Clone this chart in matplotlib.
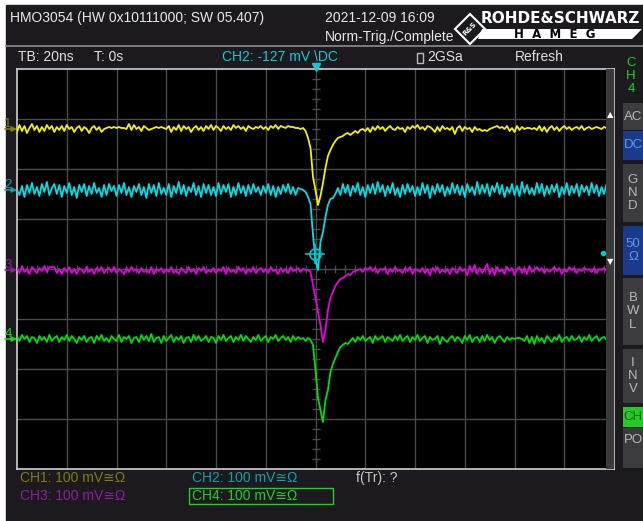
import numpy as np
import matplotlib.pyplot as plt
from matplotlib.patches import Rectangle, Polygon

# screen: 12 div x 20 ns, 8 div x 100 mV, samples every 1 ns
T_START = -120
T_STEP = 1

# CH1 (yellow), mV relative to its own baseline
ch1_pre = [-6, 8, -4, 6, -8, 2, 10, -2, 6, -6, 4, -4, 8, 0, 6, -6, 4, -2, 6, -4,
           8, 0, 4, -6, 2, 6, -4, 4, 0, -8, 2, 6, -2, 4, -6, 0, 2, 4, 2, 4,
           2, 4, 2, 2, 0, 10, -2, 8, 0, 4, -4, 6, 2, -2, 0, 2, 4, 2, 4, 2,
           0, 6, -6, 4, -2, 8, -4, 6, 0, 4, -6, 2, 6, -2, 4, -4, 6, 0, 8, -2,
           6, 2, -4, 6, 0, 4, -2, 8, 2, 6, 0, 4, -4, 6, 2, 0, 4, 2, 6, 0,
           4, -2, 6, 2, 8, 0, 6, 4, 2, 6, 4, 4, 2, 2, 0, 2]
ch1_pulse = [-4, -18, -38, -96, -122, -152, -134, -108, -78, -54,
             -42, -32, -24, -18, -16, -14, -10, -8, -12, -8, -4, -8, -2]
ch1_post = [0, -4, 2, -6, 4, -2, 6, 0, 4, -4, 2, 6, 0, -2, 4, 0, 2, -6, 4, 0,
            6, 2, 8, 0, 4, -2, 6, 4, 0, -6, 4, -4, 6, 0, 2, -2, 4, -10, 2, 6,
            -4, 4, 0, 2, -6, 4, -2, 0, -4, -2, -4, 0, 2, 4, 6, 2, 4, 0, 6, -4,
            2, -6, 6, -2, 4, 0, 2, 2, 0, 2, -2, 6, -4, 4, -6, 2, 6, -2, 4, -4,
            2, 6, 0, 4, -2, 2, 4, 0, 6, -2, 2, 4, 0, 2, 4, 2, 0, 4, 2, 0,
            2, 0]

# CH2 (cyan)
ch2_pre = [0, -10, 8, -14, 10, -6, 14, -8, 6, -12, 12, -4, 16, -10, 4, 12, -8, 10, -14, 8,
           -6, 14, -10, 6, -16, 10, -4, 12, -12, 8, -8, 14, -6, 4, -14, 10, -10, 12, -2, 8,
           -12, 10, -6, 14, -10, 6, -14, 8, -4, 12, -10, 6, -16, 12, -6, 10, -12, 14, -8, 4,
           -10, 12, -14, 8, -6, 16, -8, 10, -12, 6, -4, 14, -10, 8, -14, 12, -6, 10, -10, 6,
           -12, 14, -8, 10, -4, 12, -14, 6, -10, 14, -6, 8, -12, 10, -8, 12, -4, 6, -10, 8,
           -6, 12, -10, 8, -14, 6, -8, 10, -4, 12, -8, 6, -10, 4, 2, 0]
ch2_pulse = [-4, -14, -28, -90, -140, -160, -104, -84, -54, -30, -18, -16, -8]
ch2_post = [4, -10, 12, -6, 10, -12, 8, -4, 14, -10, 6, -14, 10, -6, 12, -8, 16, -4, 10, -12,
            8, -6, 14, -10, 4, -14, 10, -8, 12, -4, 8, -12, 6, -10, 14, -6, 10, -16, 8, -8,
            12, -4, 10, -12, 6, -8, 14, -6, 10, -10, 8, -14, 12, -4, 6, -10, 16, -8, 10, -6,
            12, -12, 8, -4, 14, -8, 10, -14, 6, -6, 12, -10, 8, -12, 16, -6, 10, -8, 4, -10,
            14, -6, 12, -12, 8, -8, 10, -4, 12, -14, 6, -8, 14, -10, 8, -6, 12, -12, 10, -4,
            8, -10, 14, -6, 10, -12, 6, -8, 12, -4, 8, 0]

# CH3 (magenta)
ch3_pre = [4, -6, 8, -4, 2, -8, 6, 0, -6, 4, -2, 8, -4, 6, 6, 6, -6, 2, -8, 4,
           -4, 6, -6, 2, -8, 4, 0, -6, 6, -4, 2, -8, 4, -2, 6, -6, 0, 4, -4, 6,
           -6, 2, -2, -8, 4, -4, 6, -2, 2, -6, 4, -4, 0, -6, 6, -8, 2, -2, 4, -6,
           2, -4, 6, -6, 0, -8, 4, -2, -6, 6, -4, 2, -8, 4, -2, 6, -6, 0, -4, 4,
           -6, 2, -2, 6, -8, 4, -4, 0, -6, 6, -2, 4, -8, 2, -4, 6, -6, 0, 4, -4,
           2, -6, 6, -2, 0, -8, 4, -4, 2, -6, 6, -2, 0, 4, -4, 2, 0]
ch3_pulse = [0, -4, -30, -56, -84, -110, -144, -120, -80, -56,
             -44, -32, -24, -18, -16, -12, -8, -10, -4, -2]
ch3_post = [0, 2, -4, 4, 0, 6, -2, 4, -6, 2, 0, 4, -8, 2, -4, 6, -2, 0, -6, 4,
            -2, 6, -8, 2, 0, -4, 4, -6, 2, -10, 4, -2, 6, -6, 0, -4, 2, -8, 4, 0,
            -6, 6, -2, 2, -10, 8, -4, 10, -8, 4, -6, 2, 12, -8, 4, -10, 6, -4, 2, -8,
            6, -2, 4, -10, 2, 6, -6, 4, -8, 8, -4, 0, 6, -2, 4, -6, 2, -4, 0, 6,
            -2, 4, -8, 2, -4, 6, 0, 4, -6, 2, -2, 4, 0, 2, -4, 4, -6, 2, 0, 4,
            -2, 2, 0, 2]

# CH4 (green)
ch4_pre = [6, -4, 8, 0, 6, -6, 4, 2, -8, 6, -2, 4, -6, 8, -4, 2, 6, -6, 4, -2,
           8, -4, 6, 0, -8, 4, -2, 6, -6, 2, 4, -8, 6, -2, 8, -4, 2, -6, 6, 0,
           -4, 8, -6, 4, 0, 6, -8, 2, 4, -6, 8, -2, 6, -4, 10, -6, 2, 4, -8, 6,
           -4, 2, 8, -6, 4, -2, 6, -8, 2, 4, -6, 8, -2, 6, -4, 0, 6, -6, 4, 2,
           -8, 6, -2, 8, -4, 2, 6, -6, 4, -2, 8, -4, 6, 0, -6, 4, -2, 8, -4, 2,
           6, -6, 4, 0, 8, -4, 2, 6, -2, 4, -6, 6, -2, 4, 0, 2, -4, 2]
ch4_pulse = [-2, -12, -62, -118, -142, -166, -122, -102, -66, -50,
             -38, -26, -16, -12, -8, -10, -4]
ch4_post = [2, -6, 4, -2, 6, -4, 0, 4, -8, 6, -2, 2, 6, -6, 4, 0, -4, 6, -2, 8,
            -4, 2, 6, -6, 4, -2, 8, -4, 2, 6, -8, 4, -2, 0, 6, -10, 4, -2, -6, 2,
            6, -4, 4, 0, -8, 6, -2, 8, -6, 2, 4, -6, 6, -4, 8, -2, 4, -8, 2, 6,
            0, -6, 4, -2, 2, 0, 2, 2, 0, -4, 6, -8, 4, -10, 6, -4, 2, -8, 6, 0,
            -6, 4, -2, 8, -6, 2, 4, -4, 6, -2, 0, 6, -6, 4, -2, 8, -4, 2, 6, -4,
            2, 4, -2, 6, 0, 2]

channel_names = ['CH1', 'CH2', 'CH3', 'CH4']
channel_offsets = [280, 158, -2, -140]   # mV on screen
trace_colors = ['#f2f200', '#00dde6', '#e600e6', '#00e000']
label_colors = ['#807c14', '#1a9ca3', '#8e1f9c', '#22d022']
traces = [ch1_pre + ch1_pulse + ch1_post,
          ch2_pre + ch2_pulse + ch2_post,
          ch3_pre + ch3_pulse + ch3_post,
          ch4_pre + ch4_pulse + ch4_post]

BG = '#1c1a1e'
GRID = '#4a4a4a'
FONT = ['Liberation Sans', 'DejaVu Sans']
FS = 10
W, H = 643, 521


def fx(x):
    return x / W


def fy(y):
    return 1 - y / H


fig = plt.figure(figsize=(6.43, 5.21), dpi=100, facecolor='white')
fig.patches.append(Rectangle((fx(6), 0), 1, fy(5), transform=fig.transFigure,
                             color=BG, zorder=-5))
fig.add_artist(plt.Line2D([fx(6), 1], [fy(45.5), fy(45.5)], color='#8c8c8c', lw=1.2))

# header
fig.text(fx(10), fy(18), 'HMO3054 (HW 0x10111000; SW 05.407)', color='#e8e8e8',
         fontsize=FS, family=FONT, va='center')
fig.text(fx(325), fy(18), '2021-12-09 16:09', color='#e8e8e8', fontsize=FS,
         family=FONT, va='center')
fig.text(fx(325), fy(37), 'Norm-Trig./Complete', color='#e8e8e8', fontsize=FS,
         family=FONT, va='center')

# R&S / HAMEG logo
fig.patches.append(Polygon([(fx(470), fy(14)), (fx(485), fy(29)), (fx(470), fy(44)),
                            (fx(455), fy(29))], closed=True, fill=False,
                           edgecolor='white', lw=1.5, transform=fig.transFigure))
fig.text(fx(470), fy(29), 'R&S', color='white', fontsize=5, rotation=45,
         ha='center', va='center', weight='bold')
fig.text(fx(640), fy(18.5), 'ROHDE&SCHWARZ', color='white', fontsize=11,
         weight='bold', ha='right', va='center', family='DejaVu Sans')
fig.patches.append(Polygon([(fx(482), fy(29)), (fx(642), fy(29)), (fx(632), fy(39)),
                            (fx(478), fy(39))], closed=True, facecolor='white',
                           edgecolor='none', transform=fig.transFigure))
fig.text(fx(555), fy(34), 'H  A  M  E  G', color='black', fontsize=8.5, weight='heavy',
         ha='center', va='center', family='DejaVu Sans')

# second status line
fig.text(fx(18), fy(57), 'TB: 20ns', color='#e0e0e0', fontsize=FS, family=FONT, va='center')
fig.text(fx(94), fy(57), 'T: 0s', color='#e0e0e0', fontsize=FS, family=FONT, va='center')
fig.text(fx(222), fy(57), 'CH2: -127 mV \\DC', color='#19c8d2', fontsize=FS,
         family=FONT, va='center')
fig.patches.append(Rectangle((fx(417), fy(63)), 6 / W, 10 / H, facecolor='none',
                             edgecolor='#bbbbbb', lw=1, transform=fig.transFigure))
fig.text(fx(427), fy(57), '2GSa', color='#e0e0e0', fontsize=FS, family=FONT, va='center')
fig.text(fx(515), fy(57), 'Refresh', color='#e0e0e0', fontsize=FS, family=FONT, va='center')
for k, ch in enumerate('CH4'):
    fig.text(fx(631), fy(63 + 13 * k), ch, color='#22d022', fontsize=9.5,
             family=FONT, ha='center', va='center')

# side buttons: label, top, bottom, face, text colour
buttons = [('AC', 103, 130, '#3c3c3e', '#b8b8b8'),
           ('DC', 131, 160, '#1a3a8c', '#5a9ae8'),
           ('G\nN\nD', 164, 222, '#3c3c3e', '#b8b8b8'),
           ('50\nΩ', 226, 275, '#1a3a8c', '#5a9ae8'),
           ('B\nW\nL', 278, 345, '#3c3c3e', '#b8b8b8'),
           ('I\nN\nV', 349, 403, '#3c3c3e', '#b8b8b8'),
           ('CH', 407, 427, '#22cc22', '#0a5a0a'),
           ('PO', 428, 468, '#3c3c3e', '#b8b8b8')]
for lab, top, bot, face, tc in buttons:
    fig.patches.append(Rectangle((fx(623), fy(bot)), 20 / W, (bot - top) / H,
                                 facecolor=face, edgecolor='none',
                                 transform=fig.transFigure))
    fig.text(fx(633), fy((top + bot) / 2 if lab != 'PO' else top + 12), lab, color=tc,
             fontsize=9.5, family=FONT, ha='center', va='center', linespacing=1.15)

# plot area
ax = fig.add_axes([fx(17), fy(469), (614 - 17) / W, 400 / H])
ax.set_facecolor('black')
ax.set_xlim(-120, 120)
ax.set_ylim(-400, 400)
ax.set_xticks([])
ax.set_yticks([])
for s in ax.spines.values():
    s.set_color('#d0d0d0')
    s.set_linewidth(1.2)

for x in range(-100, 120, 20):
    ax.axvline(x, color=GRID, lw=1, zorder=1)
for y in range(-300, 400, 100):
    ax.axhline(y, color=GRID, lw=1, zorder=1)
yy = np.array([v for v in range(-380, 400, 20) if v % 100])
xx = np.array([v for v in range(-116, 120, 4) if v % 20])
ax.plot(np.zeros(len(yy)), yy, ls='none', marker='_', ms=6, mew=1, color=GRID, zorder=1)
ax.plot(xx, np.zeros(len(xx)), ls='none', marker='|', ms=6, mew=1, color=GRID, zorder=1)

for vals, off, col in zip(traces, channel_offsets, trace_colors):
    t = T_START + T_STEP * np.arange(len(vals))
    ax.plot(t, np.array(vals) + off, color=col, lw=1.3, zorder=3)

# trigger level / position markers
ax.plot([-0.2], [31], marker='o', ms=8, mfc='none', mec='#00c8d2', mew=1.2, zorder=4)
ax.plot([-0.2], [31], marker='+', ms=15, mec='#00c8d2', mew=1.2, zorder=4)
ax.plot([115.6], [32], marker='o', ms=3, color='#00c8d2', zorder=6)
ax.plot([0], [405], marker='v', ms=5.5, color='#19c8d2', clip_on=False, zorder=6)

# scrollbar strip on the right
ax.add_patch(Rectangle((0.9866, 0), 0.0134, 1, transform=ax.transAxes,
                       facecolor='#3a3a3a', edgecolor='none', zorder=5))
ax.text(0.9933, (469 - 115) / 400, '▲', transform=ax.transAxes, color='white',
        fontsize=6, ha='center', va='center', zorder=6)
ax.text(0.9933, (469 - 262) / 400, '▼', transform=ax.transAxes, color='white',
        fontsize=6, ha='center', va='center', zorder=6)

# channel ground markers on the left
for k, (off, col) in enumerate(zip(channel_offsets, label_colors)):
    ax.annotate('', xy=(0, off), xycoords=('axes fraction', 'data'),
                xytext=(-12, 0), textcoords='offset pixels',
                arrowprops=dict(arrowstyle='-|>', color=col, lw=1.2,
                                mutation_scale=7, shrinkA=0, shrinkB=0))
    ax.annotate(str(k + 1), xy=(0, off), xycoords=('axes fraction', 'data'),
                xytext=(-9, 5), textcoords='offset pixels', color=col,
                fontsize=9.5, family=FONT, ha='center', va='center',
                annotation_clip=False)

# channel settings at the bottom
bottom_pos = [(20, 478), (192, 478), (20, 496), (192, 496)]
for name, col, (x, y) in zip(channel_names, label_colors, bottom_pos):
    fig.text(fx(x), fy(y), name + ': 100 mV≅Ω', color=col, fontsize=FS,
             family=FONT, va='center')
fig.patches.append(Rectangle((fx(189), fy(504)), (333 - 189) / W, 16 / H,
                             facecolor='none', edgecolor='#22d022', lw=1,
                             transform=fig.transFigure))
fig.text(fx(356), fy(478), 'f(Tr): ?', color='#c8c8c8', fontsize=FS,
         family=FONT, va='center')

fig.savefig('out.png', dpi=100, facecolor=fig.get_facecolor())
